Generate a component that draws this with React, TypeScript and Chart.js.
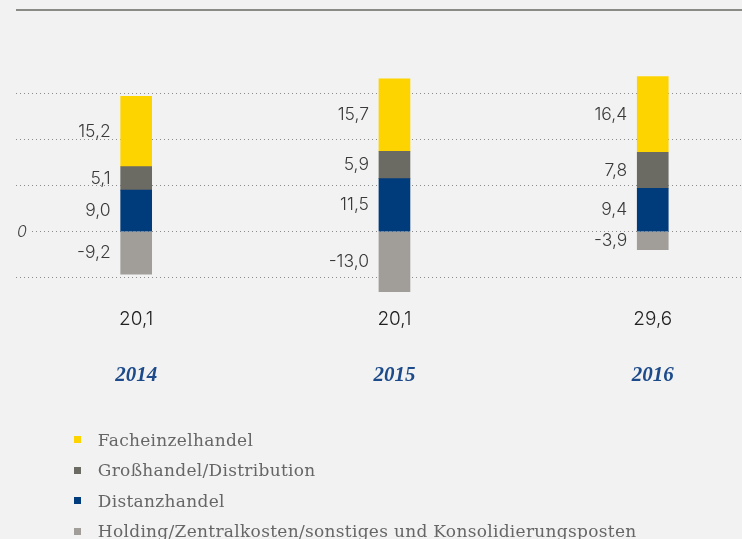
import React, { useEffect, useRef } from 'react';
import { Chart, registerables } from 'chart.js';
Chart.register(...registerables);

const years = ['2014', '2015', '2016'];
const facheinzelhandel = [15.2, 15.7, 16.4];
const grosshandel = [5.1, 5.9, 7.8];
const distanzhandel = [9.0, 11.5, 9.4];
const holding = [-9.2, -13.0, -3.9];
const totals = [20.1, 20.1, 29.6];
const gridTicks = [-10, 0, 10, 20, 30];

const seriesLabels = [
  'Facheinzelhandel',
  'Großhandel/Distribution',
  'Distanzhandel',
  'Holding/Zentralkosten/sonstiges und Konsolidierungsposten',
];
const seriesValues = [facheinzelhandel, grosshandel, distanzhandel, holding];
const seriesColors = ['#fdd400', '#6b6a63', '#003b7b', '#a19e9a'];
const stackOrder = [2, 1, 0, 3];

const BG = '#f2f2f2';
const fmt = (v: number) => v.toFixed(1).replace('.', ',');

const decor = {
  id: 'decor',
  beforeDraw(chart: any) {
    const ctx = chart.ctx;
    ctx.save();
    ctx.fillStyle = '#8a8a86';
    ctx.fillRect(chart.chartArea.left, 9, chart.width - chart.chartArea.left, 2);
    ctx.restore();
  },
  afterDatasetsDraw(chart: any) {
    const ctx = chart.ctx;
    ctx.save();
    ctx.font = '300 17.5px Inter';
    ctx.fillStyle = '#3a3a3a';
    ctx.textAlign = 'right';
    ctx.textBaseline = 'middle';
    chart.data.datasets.forEach((ds: any, di: number) => {
      const meta = chart.getDatasetMeta(di);
      meta.data.forEach((bar: any, i: number) => {
        const p = bar.getProps(['x', 'y', 'base', 'width'], true);
        const v = ds.data[i].y;
        ctx.fillText(fmt(v), p.x - p.width / 2 - 10, (p.y + p.base) / 2);
      });
    });
    ctx.font = '300 19px Inter';
    ctx.fillStyle = '#222';
    ctx.textAlign = 'center';
    const xs = chart.scales.x;
    totals.forEach((t, i) => {
      ctx.fillText(fmt(t), xs.getPixelForValue(i), chart.chartArea.bottom + 18);
    });
    ctx.restore();
  },
};

export default function App() {
  const ref = useRef<HTMLCanvasElement>(null);
  useEffect(() => {
    if (!ref.current) return;
    const datasets = stackOrder.map((k) => ({
      label: seriesLabels[k],
      data: seriesValues[k].map((v, i) => ({ x: i, y: v })),
      backgroundColor: seriesColors[k],
      borderWidth: 0,
      barThickness: 31,
    }));
    const chart = new Chart(ref.current, {
      type: 'bar',
      data: { datasets },
      plugins: [decor],
      options: {
        responsive: false,
        animation: false,
        layout: { padding: { left: 14, right: 0, top: 70, bottom: 0 } },
        plugins: { legend: { display: false }, tooltip: { enabled: false } },
        scales: {
          x: {
            type: 'linear',
            stacked: true,
            offset: false,
            min: -0.4653,
            max: 2.3456,
            afterBuildTicks: (s: any) => {
              s.ticks = years.map((_, i) => ({ value: i }));
            },
            afterFit: (s: any) => {
              s.height = 238;
            },
            grid: { display: false, drawTicks: false },
            border: { display: false },
            ticks: {
              padding: 62,
              maxRotation: 0,
              autoSkip: false,
              color: '#1c4a8a',
              font: { family: 'Liberation Serif', size: 21, style: 'italic', weight: 'bold' },
              callback: (v: any) => years[v] ?? '',
            },
          },
          y: {
            type: 'linear',
            stacked: true,
            min: -15,
            max: 35,
            afterBuildTicks: (s: any) => {
              s.ticks = gridTicks.map((value) => ({ value }));
            },
            grid: {
              color: '#8c8c8c',
              lineWidth: 1,
              drawTicks: false,
            },
            border: { display: false, dash: [1, 3] },
            ticks: {
              mirror: true,
              padding: 1,
              color: '#444',
              font: { family: 'Inter', size: 16, style: 'italic', weight: 300 },
              callback: (v: any) => (v === 0 ? '0' : ''),
              showLabelBackdrop: (c: any) => c.tick && c.tick.value === 0,
              backdropColor: BG,
              backdropPadding: { left: 1, right: 5, top: 2, bottom: 2 },
            },
          },
        },
      } as any,
    });
    return () => chart.destroy();
  }, []);

  return (
    <div
      style={{
        position: 'fixed',
        left: 0,
        top: 0,
        width: 742,
        height: 539,
        background: BG,
        overflow: 'hidden',
      }}
    >
      <canvas ref={ref} width={742} height={539} style={{ position: 'absolute', left: 0, top: 0 }} />
      {seriesLabels.map((l, k) => (
        <div
          key={l}
          style={{
            position: 'absolute',
            left: 74,
            top: 439.5 + k * 30.5 - 12,
            height: 24,
            display: 'flex',
            alignItems: 'center',
            whiteSpace: 'nowrap',
            fontFamily: '"DejaVu Serif"',
            fontSize: 17,
            letterSpacing: 0.3,
            color: '#666',
          }}
        >
          <span
            style={{
              display: 'inline-block',
              width: 7,
              height: 7,
              background: seriesColors[k],
              marginRight: 16.8,
            }}
          />
          {l}
        </div>
      ))}
    </div>
  );
}
